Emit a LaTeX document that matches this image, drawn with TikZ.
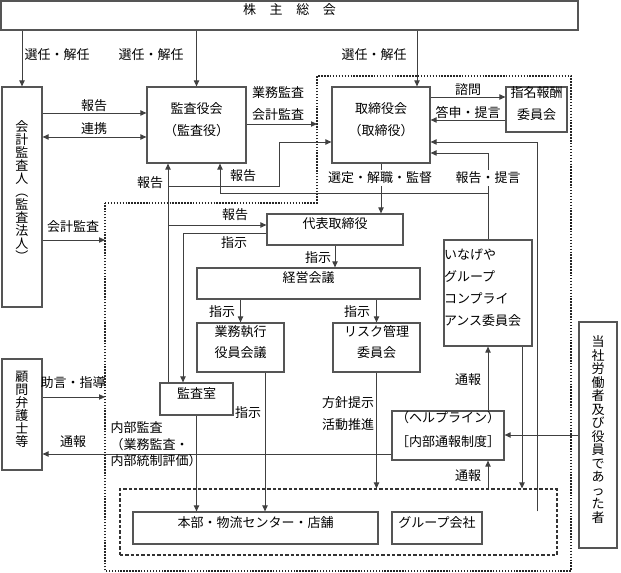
\documentclass[tikz,border=0pt]{standalone}
\usepackage{fontspec}
\setmainfont{Noto Sans CJK JP}
\usetikzlibrary{arrows.meta,fit}
\definecolor{boxc}{HTML}{555555}
\definecolor{linec}{HTML}{404040}
\tikzset{
  jp/.style={font={\fontsize{9.75pt}{16pt}\selectfont}},
  plainbox/.style={draw=boxc, line width=0.9pt, inner sep=0pt, jp},
  box/.style={plainbox, align=center},
  vbox/.style={draw=boxc, line width=0.9pt, inner sep=0pt, align=center,
    font={\fontsize{9.75pt}{9.75pt}\selectfont\lineskiplimit=-20pt}},
  vboxw/.style={draw=boxc, line width=0.9pt, inner sep=0pt, align=center,
    font={\fontsize{9.75pt}{10.1pt}\selectfont\lineskiplimit=-20pt}},
  lbl/.style={inner sep=1pt, jp},
  wlbl/.style={inner sep=1.5pt, fill=white, jp},
  ln/.style={draw=linec, line width=0.7pt},
  arr/.style={ln, -{Triangle[length=4.5pt,width=4pt]}},
  darr/.style={ln, {Triangle[length=4.5pt,width=4pt]}-{Triangle[length=4.5pt,width=4pt]}},
  dotline/.style={draw=black!85, line width=1pt, dash pattern=on 1.1pt off 1.1pt},
  dashline/.style={draw=black!80, line width=0.8pt, dash pattern=on 2.6pt off 1.4pt},
}
\begin{document}
\begin{tikzpicture}[x=0.75pt,y=-0.75pt]
\useasboundingbox (0,0) rectangle (621,573);
\fill[white] (0,0) rectangle (621,573);

% outer dotted region
\draw[dotline] (105,203) -- (317,203) -- (317,76) -- (571,76) -- (571,571) -- (105,571) -- cycle;
% inner dashed region
\node[dashline, inner sep=0pt, fit={(120,489) (557,555)}] (inner) {};

% boxes
\node[box, fit={(1,1) (578,30)}] (kabu) {株\hspace{1.05em}主\hspace{1.05em}総\hspace{1.05em}会};
\node[vbox, fit={(2,87) (42,307)}] (kaikei) {会\\計\\監\\査\\人\\︵\\監\\査\\法\\人\\︶};
\node[box, fit={(147,87) (246,163)}] (kansayaku) {監査役会\\（監査役）};
\node[box, fit={(332,87) (430,163)}] (torishimari) {取締役会\\（取締役）};
\node[box, font={\fontsize{9.75pt}{16.5pt}\selectfont}, fit={(506,87) (567,132)}] (shimei) {指名報酬\\委員会};
\node[box, fit={(267,214) (403,245)}] (daihyo) {代表取締役};
\node[box, fit={(197,268) (420,299)}] (keiei) {経営会議};
\node[box, fit={(197,323) (284,372)}] (gyomu) {業務執行\\役員会議};
\node[box, fit={(333,323) (420,372)}] (risk) {リスク管理\\委員会};
\node[box, fit={(160,383) (233,415)}] (kansashitsu) {監査室};
\node[plainbox, align=left, text width=59pt, font={\fontsize{9.75pt}{16.3pt}\selectfont}, fit={(444,240) (532,346)}] (inageya) {いなげや\hfill\null\\グループ\hfill\null\\コンプライ\hfill\null\\アンス委員会\hfill\null};
\node[box, font={\fontsize{9.75pt}{18pt}\selectfont}, fit={(392,411) (504,460)}] (help) {（ヘルプライン）\\［内部通報制度］};
\node[box, fit={(133,512) (378,544)}] (honbu) {本部・物流センター・店舗};
\node[box, fit={(392,512) (482,544)}] (group) {グループ会社};
\node[vbox, fit={(2,359) (42,470)}] (komon) {顧\\問\\弁\\護\\士\\等};
\node[vboxw, fit={(579,322) (617,548)}] (toushain) {当\\社\\労\\働\\者\\及\\び\\役\\員\\で\\あ\\っ\\た\\者};

% free-end coordinates on the dotted boundary
\coordinate (ob1) at (317,124);
\coordinate (ob2) at (105,240);
\coordinate (ob3) at (105,397);
\coordinate (gs) at (group.north -| 537,0);

% shareholders
\draw[arr] (kabu.south -| kaikei.north) -- (kaikei.north);
\draw[arr] (kabu.south -| kansayaku.north) -- (kansayaku.north);
\draw[arr] (kabu.south -| 417,0) -- (torishimari.north -| 417,0);

% auditor
\draw[arr] (kaikei.east |- 0,113) -- (kansayaku.west |- 0,113);
\draw[darr] (kaikei.east |- 0,137) -- (kansayaku.west |- 0,137);
\draw[arr] (kaikei.east |- ob2) -- (ob2);
\draw[arr] (kansayaku.east |- ob1) -- (ob1);

% board
\draw[arr] (torishimari.east |- 0,97) -- (shimei.west |- 0,97);
\draw[arr] (shimei.west |- 0,120) -- (torishimari.east |- 0,120);
\draw[arr] (gs) -- (537,142) -- (torishimari.east |- 0,142);
\draw[arr] (inageya.north -| 488,0) -- (488,153) -- (torishimari.east |- 0,153);
\draw[arr] (488,193) -- (220,193) -- (kansayaku.south -| 220,0);
\draw[arr] (torishimari.south) -- (daihyo.north -| torishimari.south);

% audit office reporting
\draw[arr] (kansashitsu.north -| 168,0) -- (kansayaku.south -| 168,0);
\draw[arr] (168,186) -- (279,186) -- (279,142) -- (torishimari.west |- 0,142);
\draw[arr] (168,225) -- (daihyo.west |- 0,225);
\draw[arr] (daihyo.west |- 0,233) -- (183,233) -- (kansashitsu.north -| 183,0);

% executive chain
\draw[arr] (daihyo.south) -- (keiei.north -| daihyo.south);
\draw[arr] (keiei.south -| gyomu.north) -- (gyomu.north);
\draw[arr] (keiei.south -| risk.north) -- (risk.north);
\draw[arr] (gyomu.south -| 265,0) -- (honbu.north -| 265,0);
\draw[arr] (kansashitsu.south) -- (honbu.north -| kansashitsu.south);
\draw[arr] (risk.south) -- (inner.north -| risk.south);
\draw[arr] (inageya.south -| 522,0) -- (inner.north -| 522,0);

% whistleblowing
\draw[arr] (help.north -| 488,0) -- (inageya.south -| 488,0);
\draw[arr] (inner.north -| 488,0) -- (help.south -| 488,0);
\draw[arr] (toushain.west |- 0,435) -- (help.east |- 0,435);
\draw[arr] (help.west |- 0,454) -- (komon.east |- 0,454);
\draw[arr] (komon.east |- ob3) -- (ob3);

% labels
\node[lbl] (t1) at (57,55) {選任・解任};
\node[lbl] (t2) at (151,55) {選任・解任};
\node[lbl] (t3) at (374,55) {選任・解任};
\node[lbl] (t4) at (94,106) {報告};
\node[lbl] (t5) at (94,129) {連携};
\node[lbl] (t6) at (278,93) {業務監査};
\node[lbl] (t7) at (278,115) {会計監査};
\node[lbl] (t8) at (468,90) {諮問};
\node[lbl] (t9) at (468,112) {答申・提言};
\node[lbl] (t10) at (150,183) {報告};
\node[lbl] (t11) at (243,176) {報告};
\node[wlbl] (t12) at (380,178) {選定・解職・監督};
\node[wlbl] (t13) at (488,178) {報告・提言};
\node[lbl] (t14) at (73,227) {会計監査};
\node[lbl] (t15) at (235,215) {報告};
\node[lbl] (t16) at (234,243) {指示};
\node[lbl] (t17) at (318,258) {指示};
\node[lbl] (t18) at (222,312) {指示};
\node[lbl] (t19) at (357,312) {指示};
\node[lbl] (t20) at (73,383) {助言・指導};
\node[lbl] (t21) at (468,380) {通報};
\node[lbl, font={\fontsize{9.75pt}{16.5pt}\selectfont}] (t22) at (348,414) {\begin{tabular}{@{}r@{}}方針提示\\活動推進\end{tabular}};
\node[lbl] (t23) at (248,413) {指示};
\node[lbl, anchor=west, font={\fontsize{9.75pt}{12.5pt}\selectfont}] (t24) at (109,446) {\begin{tabular}{@{}l@{}}内部監査\\（業務監査・\\内部統制評価）\end{tabular}};
\node[lbl] (t25) at (73,442) {通報};
\node[lbl] (t26) at (468,476) {通報};
\end{tikzpicture}
\end{document}
